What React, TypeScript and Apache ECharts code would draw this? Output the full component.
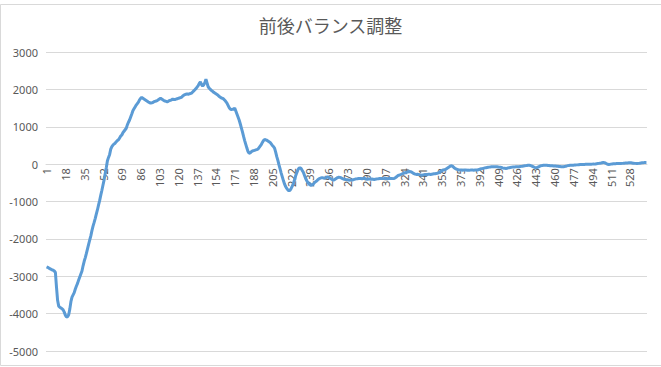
import React, { useEffect, useRef } from "react";
import * as echarts from "echarts";

const TITLE = "前後バランス調整";
const Y_MIN = -5000;
const Y_MAX = 3000;
const Y_STEP = 1000;

const balance: number[] = [
  -2747, -2760, -2780, -2800, -2810, -2830, -2840, -2860, -2900, -3300,
  -3650, -3800, -3830, -3850, -3870, -3900, -3960, -4040, -4090, -4080,
  -4030, -3880, -3680, -3560, -3500, -3440, -3340, -3260, -3190, -3100,
  -3020, -2940, -2860, -2720, -2600, -2500, -2390, -2270, -2150, -2030,
  -1920, -1780, -1660, -1560, -1450, -1330, -1220, -1090, -970, -830,
  -700, -560, -420, -250, -90, 90, 180, 260, 400, 470,
  510, 540, 560, 600, 630, 650, 700, 750, 780, 840,
  880, 920, 960, 1050, 1120, 1180, 1260, 1340, 1430, 1480,
  1530, 1580, 1620, 1660, 1720, 1760, 1790, 1760, 1740, 1720,
  1700, 1680, 1660, 1650, 1630, 1640, 1650, 1670, 1680, 1690,
  1700, 1720, 1740, 1760, 1740, 1720, 1700, 1690, 1680, 1670,
  1680, 1700, 1710, 1720, 1740, 1730, 1730, 1740, 1750, 1760,
  1770, 1780, 1790, 1820, 1840, 1860, 1870, 1880, 1870, 1880,
  1890, 1900, 1930, 1960, 1990, 2020, 2060, 2100, 2160, 2200,
  2130, 2090, 2120, 2180, 2270, 2170, 2070, 2030, 2000, 1970,
  1950, 1920, 1900, 1880, 1860, 1840, 1810, 1790, 1770, 1760,
  1740, 1710, 1670, 1630, 1570, 1510, 1470, 1460, 1470, 1470,
  1500, 1420, 1340, 1260, 1180, 1080, 970, 860, 740, 630,
  530, 430, 340, 290, 300, 330, 350, 360, 370, 380,
  390, 400, 440, 480, 520, 580, 630, 660, 650, 640,
  620, 600, 580, 540, 500, 470, 430, 320, 200, 100,
  -20, -130, -240, -340, -440, -530, -600, -650, -690, -710,
  -700, -650, -590, -520, -420, -320, -240, -160, -110, -100,
  -120, -170, -220, -300, -380, -440, -490, -530, -550, -570,
  -560, -530, -500, -470, -450, -420, -400, -380, -370, -360,
  -370, -380, -370, -350, -340, -350, -370, -390, -410, -430,
  -420, -400, -380, -360, -350, -355, -365, -380, -395, -405,
  -410, -415, -420, -425, -430, -428, -425, -420, -410, -400,
  -395, -390, -385, -383, -385, -390, -385, -380, -390, -400,
  -405, -400, -398, -402, -400, -405, -410, -405, -400, -395,
  -390, -385, -383, -385, -388, -385, -380, -385, -390, -386,
  -384, -383, -385, -388, -383, -370, -345, -320, -300, -290,
  -280, -265, -250, -240, -230, -220, -212, -205, -200, -205,
  -215, -235, -255, -268, -275, -270, -275, -285, -292, -295,
  -290, -285, -280, -278, -276, -272, -270, -275, -270, -265,
  -260, -255, -250, -245, -235, -215, -195, -175, -160, -160,
  -150, -130, -110, -90, -70, -50, -45, -60, -90, -115,
  -130, -140, -150, -155, -158, -160, -162, -160, -158, -160,
  -162, -160, -165, -160, -158, -160, -163, -160, -157, -160,
  -150, -140, -130, -120, -115, -108, -100, -95, -90, -85,
  -80, -75, -72, -70, -68, -70, -72, -70, -75, -80,
  -85, -90, -100, -108, -112, -116, -110, -100, -95, -90,
  -85, -80, -78, -75, -72, -70, -72, -70, -65, -60,
  -55, -50, -45, -40, -35, -30, -27, -35, -45, -60,
  -75, -88, -98, -95, -80, -65, -50, -40, -35, -30,
  -28, -27, -30, -35, -38, -42, -45, -45, -48, -50,
  -52, -55, -58, -62, -66, -70, -72, -71, -65, -55,
  -48, -40, -35, -30, -28, -27, -28, -25, -22, -20,
  -18, -15, -12, -10, -9, -9, -8, -6, -4, -2,
  0, -3, -5, 0, 3, 0, 5, 10, 15, 20,
  25, 30, 38, 45, 40, 25, 10, -5, -9, -5,
  0, 5, 8, 10, 12, 14, 15, 16, 17, 18,
  20, 22, 25, 28, 30, 32, 34, 36, 35, 30,
  25, 22, 20, 18, 18, 20, 25, 30, 35, 40,
  42, 45, 45,
];

const categories: string[] = balance.map((_, i) => String(i + 1));

const GRID_TOP = 52;
const GRID_BOTTOM = 16;
const CHART_H = 367;

export default function App() {
  const ref = useRef<HTMLDivElement>(null);

  useEffect(() => {
    document.body.style.margin = "0";
    if (!ref.current) return;
    const chart = echarts.init(ref.current, null, { renderer: "svg" });
    const labelFont = "'Noto Sans', 'Liberation Sans', sans-serif";
    const gridH = CHART_H - GRID_TOP - GRID_BOTTOM;
    const zeroFromBottom = (gridH * (0 - Y_MIN)) / (Y_MAX - Y_MIN);
    chart.setOption({
      animation: false,
      backgroundColor: "#ffffff",
      title: {
        text: TITLE,
        left: "center",
        top: 16,
        padding: 0,
        textStyle: {
          fontFamily: "'Noto Sans CJK JP', sans-serif",
          fontSize: 18,
          fontWeight: "normal",
          color: "#595959",
        },
      },
      grid: { left: 46, right: 14, top: GRID_TOP, bottom: GRID_BOTTOM, containLabel: false },
      xAxis: {
        type: "category",
        data: categories,
        boundaryGap: true,
        position: "bottom",
        offset: -zeroFromBottom,
        axisLine: { show: true, onZero: false, lineStyle: { color: "#d9d9d9", width: 1 } },
        axisTick: { show: false },
        axisLabel: {
          interval: 16,
          rotate: 90,
          margin: 4,
          fontSize: 11,
          color: "#595959",
          fontFamily: labelFont,
        },
        splitLine: { show: false },
      },
      yAxis: {
        type: "value",
        min: Y_MIN,
        max: Y_MAX,
        interval: Y_STEP,
        axisLine: { show: false },
        axisTick: { show: false },
        axisLabel: {
          fontSize: 11,
          color: "#595959",
          margin: 8,
          fontFamily: labelFont,
          formatter: (v: number) => String(v),
        },
        splitLine: { show: true, lineStyle: { color: "#d9d9d9", width: 1 } },
      },
      series: [
        {
          type: "line",
          data: balance,
          showSymbol: false,
          symbol: "none",
          smooth: false,
          z: 5,
          lineStyle: { color: "#5b9bd5", width: 3 },
          itemStyle: { color: "#5b9bd5" },
        },
      ],
      graphic: [
        {
          type: "rect",
          shape: { x: 0.5, y: 4.5, width: 700, height: 361 },
          style: { fill: "none", stroke: "#d9d9d9", lineWidth: 1 },
          silent: true,
        },
      ],
    });
    return () => chart.dispose();
  }, []);

  return <div ref={ref} style={{ width: 661, height: 367 }} />;
}
